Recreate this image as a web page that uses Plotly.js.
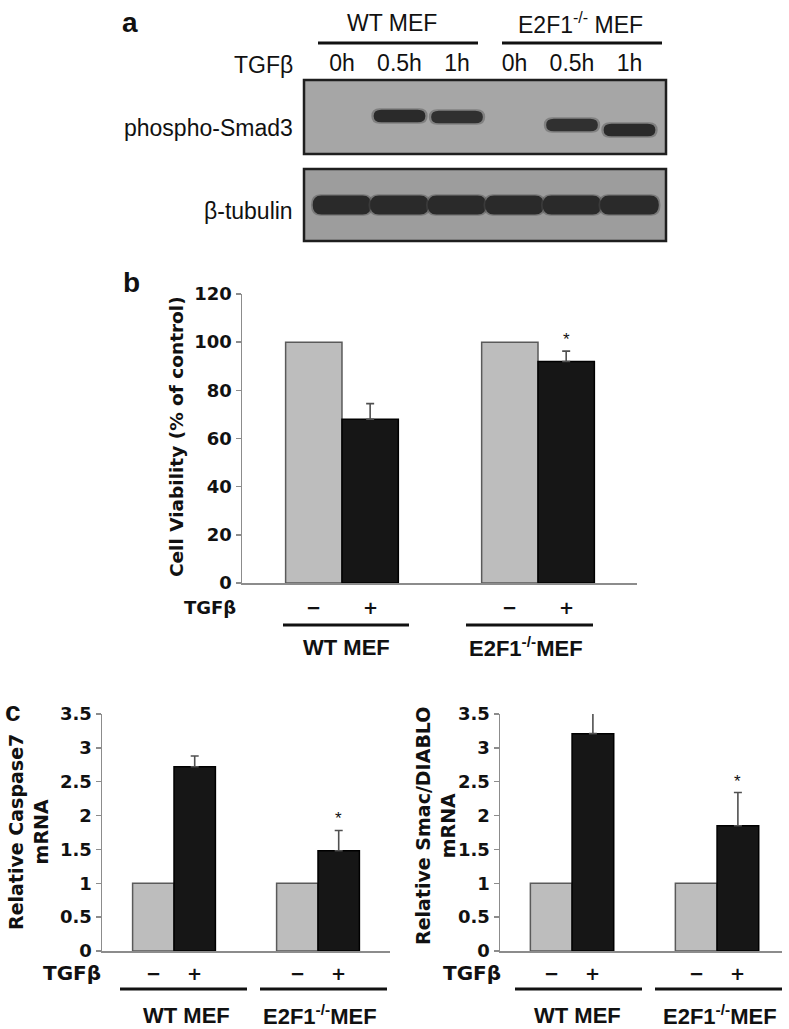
<!DOCTYPE html>
<html><head><meta charset="utf-8">
<script src="https://cdn.plot.ly/plotly-3.0.1.min.js"></script>
<style>html,body{margin:0;padding:0;background:#fff}#chart{width:789px;height:1029px}</style>
</head><body><div id="chart"></div>
<script>
// ---------------- data ----------------
const groups = ['WT MEF', 'E2F1<sup>-/-</sup>MEF'];
const treatment = ['−', '+'];
const viabilityControl = [100, 100];
const viabilityTGFb = [68, 92];
const viabilityTGFbErr = [6.5, 4.3];
const caspase7Control = [1, 1];
const caspase7TGFb = [2.72, 1.48];
const caspase7TGFbErr = [0.16, 0.30];
const smacControl = [1, 1];
const smacTGFb = [3.21, 1.85];
const smacTGFbErr = [0.30, 0.49];
const significant = [false, true];

const blotGroups = ['WT MEF', 'E2F1<sup>-/-</sup> MEF'];
const blotLanes = ['0h', '0.5h', '1h', '0h', '0.5h', '1h'];
const pSmad3Intensity = [0, 1, 0.95, 0, 0.95, 1];
const pSmad3Migration = [36, 36, 37, 45, 45, 50];
const tubulinIntensity = [1, 1, 1, 1, 1, 1];
const tubulinMigration = [125, 125, 125, 125, 125, 125];

// ---------------- helpers ----------------
const W = 789, H = 1029;
const px = x => x / W;
const py = y => 1 - y / H;
const FA = 'Liberation Sans, Arial, sans-serif';
const FB = 'DejaVu Sans, sans-serif';
const BARGAP = 0.425;
const OFF = (1 - BARGAP) / 4;
const AXC = '#8c8c8c';

function ann(text, x, y, size, opts) {
  opts = opts || {};
  return Object.assign({
    text: text, x: px(x), y: py(y), xref: 'paper', yref: 'paper',
    showarrow: false, xanchor: 'center', yanchor: 'middle',
    font: {family: opts.family || FA, size: size, color: '#111', weight: opts.bold ? 'bold' : 'normal'}
  }, opts.extra || {});
}
function hline(x0, x1, y, w) {
  return {type: 'line', xref: 'paper', yref: 'paper', x0: px(x0), x1: px(x1), y0: py(y), y1: py(y),
          line: {color: '#111', width: w || 3}};
}

const traces = [];
const annotations = [];
const shapes = [];

function barPanel(xa, ya, ctrl, tgf, err) {
  const xs = groups.map((_, i) => i);
  traces.push({type: 'bar', x: xs, y: ctrl, xaxis: xa, yaxis: ya, name: 'control', showlegend: false,
    marker: {color: '#bdbdbd', line: {color: '#5a5a5a', width: 1.5}}, hoverinfo: 'y'});
  traces.push({type: 'bar', x: xs, y: tgf, xaxis: xa, yaxis: ya, name: 'TGFβ', showlegend: false,
    marker: {color: '#161616', line: {color: '#000', width: 1.5}},
    error_y: {type: 'data', array: err, arrayminus: err.map(() => 0), symmetric: false,
              color: '#505050', thickness: 1.6, width: 4}, hoverinfo: 'y'});
  xs.forEach(i => {
    if (significant[i]) {
      annotations.push({text: '*', x: i + OFF, y: tgf[i] + err[i], xref: xa, yref: ya,
        showarrow: false, xanchor: 'center', yanchor: 'bottom', yshift: 0,
        font: {family: FA, size: 17, color: '#111'}});
    }
  });
}
function treatRow(xa, yPix, size) {
  groups.forEach((_, i) => {
    [-OFF, OFF].forEach((o, k) => {
      annotations.push({text: treatment[k], x: i + o, y: py(yPix), xref: xa, yref: 'paper',
        showarrow: false, xanchor: 'center', yanchor: 'middle',
        font: {family: FB, size: size, color: '#111', weight: 'bold'}});
    });
  });
}

// ---------------- panel b ----------------
barPanel('x', 'y', viabilityControl, viabilityTGFb, viabilityTGFbErr);
treatRow('x', 607, 18);
annotations.push(ann('TGFβ', 238, 607, 18, {family: FB, bold: true, extra: {xanchor: 'right'}}));
shapes.push(hline(283, 409, 625), hline(466, 593, 625));
annotations.push(ann(groups[0], 346, 647, 22, {bold: true}));
annotations.push(ann(groups[1], 526, 647, 22, {bold: true}));
annotations.push(ann('Cell Viability (% of control)', 176, 437, 18.5, {family: FB, bold: true, extra: {textangle: -90}}));
annotations.push(ann('b', 131, 283, 28, {bold: true}));

// ---------------- panel c ----------------
barPanel('x2', 'y2', caspase7Control, caspase7TGFb, caspase7TGFbErr);
barPanel('x3', 'y3', smacControl, smacTGFb, smacTGFbErr);
treatRow('x2', 973, 18);
treatRow('x3', 973, 18);
annotations.push(ann('TGFβ', 103, 973, 20, {family: FB, bold: true, extra: {xanchor: 'right'}}));
annotations.push(ann('TGFβ', 503, 973, 20, {family: FB, bold: true, extra: {xanchor: 'right'}}));
shapes.push(hline(120, 247, 989), hline(260, 387, 989), hline(515, 642, 989), hline(655, 782, 989));
annotations.push(ann(groups[0], 186, 1015, 22, {bold: true}));
annotations.push(ann(groups[1], 320, 1015, 22, {bold: true}));
annotations.push(ann(groups[0], 577, 1015, 22, {bold: true}));
annotations.push(ann(groups[1], 720, 1015, 22, {bold: true}));
annotations.push(ann('Relative Caspase7<br>mRNA', 28, 832, 19, {family: FB, bold: true, extra: {textangle: -90}}));
annotations.push(ann('Relative Smac/DIABLO<br>mRNA', 435, 826, 19, {family: FB, bold: true, extra: {textangle: -90}}));
annotations.push(ann('c', 13, 711, 28, {bold: true}));

// ---------------- panel a (western blot) ----------------
const laneIdx = blotLanes.map((_, i) => i);
traces.push({type: 'scatter', mode: 'text', x: laneIdx, y: laneIdx.map(() => -15), text: blotLanes,
  xaxis: 'x4', yaxis: 'y4', showlegend: false, hoverinfo: 'skip', cliponaxis: false,
  textfont: {family: FA, size: 23, color: '#111'}});
shapes.push({type: 'rect', xref: 'paper', yref: 'paper', x0: px(304), x1: px(666), y0: py(154), y1: py(80),
  fillcolor: '#a6a6a6', line: {color: '#1e1e1e', width: 2.5}, layer: 'below'});
shapes.push({type: 'rect', xref: 'paper', yref: 'paper', x0: px(304), x1: px(666), y0: py(241), y1: py(169),
  fillcolor: '#9d9d9d', line: {color: '#1e1e1e', width: 2.5}, layer: 'below'});
function band(i, yc, halfW, halfH, intensity, base) {
  const x0 = i - halfW, x1 = i + halfW, y0 = yc - halfH, y1 = yc + halfH, r = halfW * 0.3;
  const d = `M${x0 + r},${y0} L${x1 - r},${y0} Q${x1},${y0} ${x1},${yc} Q${x1},${y1} ${x1 - r},${y1} ` +
            `L${x0 + r},${y1} Q${x0},${y1} ${x0},${yc} Q${x0},${y0} ${x0 + r},${y0} Z`;
  const v = Math.round(base - (base - 42) * intensity);
  return {type: 'path', xref: 'x4', yref: 'y4', path: d, fillcolor: `rgb(${v},${v},${v})`,
          line: {width: 0}, layer: 'above'};
}
laneIdx.forEach(i => {
  if (pSmad3Intensity[i] > 0) {
    shapes.push(Object.assign(band(i, pSmad3Migration[i], 0.49, 7.8, pSmad3Intensity[i] * 0.7, 166), {opacity: 0.45}));
    shapes.push(band(i, pSmad3Migration[i], 0.45, 6.3, pSmad3Intensity[i], 166));
  }
  if (tubulinIntensity[i] > 0) {
    shapes.push(Object.assign(band(i, tubulinMigration[i], 0.54, 10.8, tubulinIntensity[i] * 0.7, 157), {opacity: 0.45}));
    shapes.push(band(i, tubulinMigration[i], 0.51, 9.5, tubulinIntensity[i], 157));
  }
});
annotations.push(ann(blotGroups[0], 392, 23, 23));
annotations.push(ann(blotGroups[1], 580, 23, 23));
shapes.push(hline(318, 478, 43), hline(502, 662, 43));
annotations.push(ann('TGFβ', 295, 65, 23, {extra: {xanchor: 'right'}}));
annotations.push(ann('phospho-Smad3', 295, 128, 23, {extra: {xanchor: 'right'}}));
annotations.push(ann('β-tubulin', 295, 211, 23, {extra: {xanchor: 'right'}}));
annotations.push(ann('a', 130, 22, 28, {bold: true}));

// ---------------- axes ----------------
function xAxis(d0, d1, r0, r1, anchor) {
  return {domain: [px(d0), px(d1)], range: [r0, r1], anchor: anchor, showline: true, linecolor: AXC,
          linewidth: 1.5, showticklabels: false, ticks: '', showgrid: false, zeroline: false, fixedrange: true};
}
function yAxis(top, bottom, r1, dtick, anchor) {
  return {domain: [py(bottom), py(top)], range: [0, r1], dtick: dtick, anchor: anchor, showline: true,
          linecolor: AXC, linewidth: 1.5, ticks: 'outside', ticklen: 5, tickcolor: AXC, tickwidth: 1.5,
          showgrid: false, zeroline: false, fixedrange: true,
          tickfont: {family: FB, size: 18, color: '#111', weight: 'bold'}};
}

const layout = {
  width: W, height: H, margin: {l: 0, r: 0, t: 0, b: 0},
  paper_bgcolor: '#fff', plot_bgcolor: 'rgba(0,0,0,0)',
  barmode: 'group', bargap: BARGAP, bargroupgap: 0, showlegend: false,
  xaxis: xAxis(242, 637, -0.51, 1.505, 'y'),
  yaxis: yAxis(294, 583, 120, 20, 'x'),
  xaxis2: xAxis(102, 390, -0.5, 1.5, 'y2'),
  yaxis2: yAxis(714, 951, 3.5, 0.5, 'x2'),
  xaxis3: xAxis(500, 782, -0.497, 1.448, 'y3'),
  yaxis3: yAxis(714, 951, 3.5, 0.5, 'x3'),
  xaxis4: {domain: [px(304), px(666)], range: [-0.661, 5.635], anchor: 'y4', visible: false, fixedrange: true},
  yaxis4: {domain: [py(241), py(0)], range: [161, -80], anchor: 'x4', visible: false, fixedrange: true},
  annotations: annotations,
  shapes: shapes
};

Plotly.newPlot('chart', traces, layout, {staticPlot: true, displayModeBar: false});
</script>
</body></html>
